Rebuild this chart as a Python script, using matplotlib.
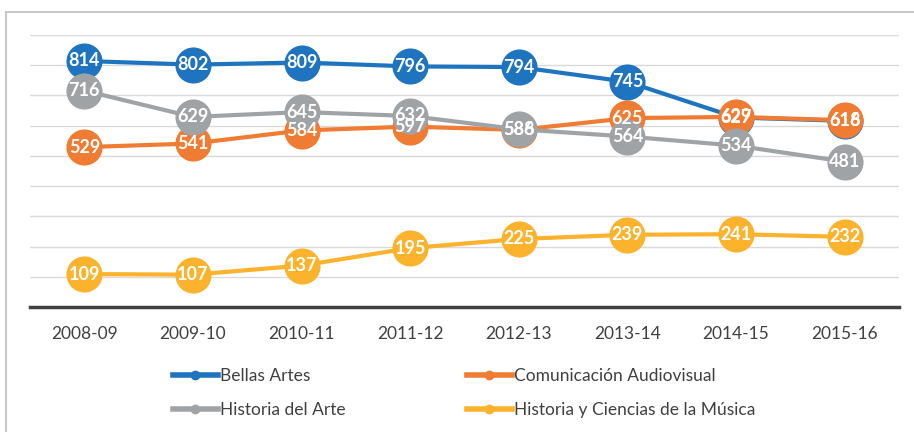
import matplotlib
matplotlib.use("Agg")
import matplotlib.pyplot as plt
from matplotlib.lines import Line2D
from matplotlib.patches import Rectangle

years = ["2008-09", "2009-10", "2010-11", "2011-12", "2012-13", "2013-14", "2014-15", "2015-16"]
bellas_artes = [814, 802, 809, 796, 794, 745, 627, 616]
comunicacion = [529, 541, 584, 597, 586, 625, 629, 618]
historia_arte = [716, 629, 645, 632, 588, 564, 534, 481]
musica = [109, 107, 137, 195, 225, 239, 241, 232]

series = [
    ("Bellas Artes", bellas_artes, "#1F74BF"),
    ("Comunicación Audiovisual", comunicacion, "#F07B32"),
    ("Historia del Arte", historia_arte, "#A0A3A6"),
    ("Historia y Ciencias de la Música", musica, "#FBB22C"),
]

plt.rcParams['font.family'] = ['Lato', 'DejaVu Sans']

W, H = 914, 432
fig = plt.figure(figsize=(W / 100, H / 100), dpi=100)
ax = fig.add_axes([30 / W, 1 - 307 / H, (899 - 30) / W, (307 - 35) / H])

x = list(range(len(years)))
for i, (name, vals, col) in enumerate(series):
    ax.plot(x, vals, color=col, lw=3.0, marker='o', markersize=26,
            markeredgewidth=0, zorder=3 + i, solid_capstyle='round', label=name)
for i, (name, vals, col) in enumerate(series):
    for xi, v in zip(x, vals):
        ax.text(xi, v, str(v), color='white', fontsize=13, fontweight='bold',
                ha='center', va='center', zorder=10)

ax.set_xlim(-0.5, len(years) - 0.5)
ax.set_ylim(0, 900)
ax.set_yticks(range(0, 901, 100))
ax.yaxis.grid(True, color='#D9D9D9', lw=1.0)
ax.set_axisbelow(True)
ax.tick_params(axis='y', left=False, labelleft=False)
ax.set_xticks(x)
ax.set_xticklabels(years, color='#404040', fontsize=12.5)
ax.tick_params(axis='x', length=0, pad=14)
for s in ['top', 'right', 'left']:
    ax.spines[s].set_visible(False)
ax.spines['bottom'].set_color('#404040')
ax.spines['bottom'].set_linewidth(2.5)
ax.spines['bottom'].set_zorder(20)

order = [0, 2, 1, 3]
handles = [Line2D([0], [0], color=series[k][2], lw=4, marker='o', markersize=6) for k in order]
labels = [series[k][0] for k in order]
leg = fig.legend(handles, labels, ncol=2, loc='center left',
                 bbox_to_anchor=(157 / W, 1 - 393 / H), frameon=False,
                 fontsize=12.5, handlelength=2.6, handletextpad=0.1,
                 columnspacing=7.0, labelspacing=1.0, labelcolor='#404040')

fig.add_artist(Rectangle((6 / W, -0.05), 1.2, 1 - 12 / H + 0.05, transform=fig.transFigure,
                         fill=False, edgecolor='#C8C8C8', lw=1.5))

fig.savefig("out.png", dpi=100)
